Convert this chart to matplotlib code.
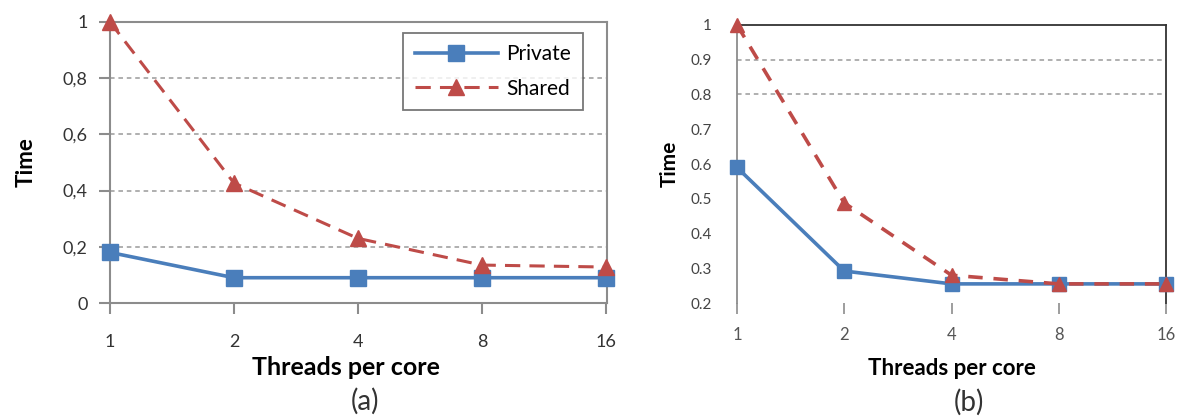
import matplotlib
matplotlib.use("Agg")
import matplotlib.pyplot as plt
import numpy as np

categories = ["1", "2", "4", "8", "16"]
a_private = [0.18, 0.09, 0.09, 0.09, 0.09]
a_shared = [1.0, 0.427, 0.23, 0.135, 0.128]
b_private = [0.59, 0.292, 0.255, 0.255, 0.255]
b_shared = [1.0, 0.488, 0.28, 0.255, 0.255]
a_yticks = [0, 0.2, 0.4, 0.6, 0.8, 1.0]
a_yticklabels = ["0", "0,2", "0,4", "0,6", "0,8", "1"]
b_yticks = [0.2, 0.3, 0.4, 0.5, 0.6, 0.7, 0.8, 0.9, 1.0]
b_yticklabels = ["0.2", "0.3", "0.4", "0.5", "0.6", "0.7", "0.8", "0.9", "1"]
b_grid = [0.8, 0.9]

plt.rcParams['font.family'] = ['Lato', 'DejaVu Sans']

BLUE = "#4A7EBB"
RED = "#BE4B48"
GREY = "#8C8C8C"

fig = plt.figure(figsize=(11.99, 4.19), dpi=100)
x = np.arange(len(categories))

# ---------- (a) ----------
ax1 = fig.add_axes([110/1199, 1-303/419, 497/1199, 281/419])
ax1.set_xlim(0, 4.01)
ax1.set_ylim(0, 1)
for v in a_yticks[1:-1]:
    ax1.axhline(v, color="#9A9A9A", lw=1.1, ls=(0, (3, 2.5)), zorder=1)
ax1.plot(x, a_private, color=BLUE, lw=2.6, marker="s", ms=11, label="Private", zorder=3, clip_on=False)
ax1.plot(x, a_shared, color=RED, lw=2.2, ls=(0, (5, 3)), marker="^", ms=12, label="Shared", zorder=3, clip_on=False)
ax1.set_xticks(x)
ax1.set_xticklabels(categories, fontsize=13)
ax1.set_yticks(a_yticks)
ax1.set_yticklabels(a_yticklabels, fontsize=13)
for s in ax1.spines.values():
    s.set_color(GREY)
    s.set_linewidth(1.5)
ax1.tick_params(axis="both", color=GREY, width=1.5, length=8, pad=8, labelcolor="#333333")
ax1.tick_params(axis="x", pad=14)
ax1.set_ylabel("Time", fontsize=16, fontweight="bold", labelpad=19)
fig.text(346/1199, 1-367/419, "Threads per core", fontsize=18, fontweight="bold",
         ha="center", va="center")
leg = ax1.legend(loc="upper left", bbox_to_anchor=(0.59, 0.962), fancybox=False,
                 edgecolor="#555555", fontsize=15, handlelength=4.0, borderpad=0.55,
                 labelspacing=0.7, handletextpad=0.4, borderaxespad=0)
leg.get_frame().set_linewidth(1.3)
fig.text(365/1199, 1-401/419, "(a)", fontsize=20, ha="center", va="center", color="#333333")

# ---------- (b) ----------
ax2 = fig.add_axes([737/1199, 1-303/419, 429/1199, 278/419])
ax2.set_xlim(0, 4)
ax2.set_ylim(0.2, 1)
for v in b_grid:
    ax2.axhline(v, color="#9A9A9A", lw=1.1, ls=(0, (3, 2.5)), zorder=1)
ax2.plot(x, b_private, color=BLUE, lw=2.6, marker="s", ms=10, zorder=3, clip_on=False)
ax2.plot(x, b_shared, color=RED, lw=2.6, ls=(0, (4, 3)), marker="^", ms=10, zorder=3, clip_on=False)
ax2.set_xticks(x)
ax2.set_xticklabels(categories, fontsize=12, color="#555555")
ax2.set_yticks(b_yticks)
ax2.set_yticklabels(b_yticklabels, fontsize=11, color="#444444")
ax2.spines["bottom"].set_visible(False)
ax2.spines["left"].set_color(GREY)
ax2.spines["left"].set_linewidth(1.3)
ax2.spines["top"].set_color("#333333")
ax2.spines["right"].set_color("#333333")
ax2.spines["top"].set_linewidth(1.3)
ax2.spines["right"].set_linewidth(1.3)
ax2.tick_params(axis="y", length=0, pad=18)
ax2.tick_params(axis="x", color=GREY, width=1.2, length=8, pad=9)
ax2.set_ylabel("Time", fontsize=15, fontweight="bold", labelpad=8)
fig.text(952/1199, 1-368/419, "Threads per core", fontsize=16, fontweight="bold",
         ha="center", va="center")
fig.text(969/1199, 1-402/419, "(b)", fontsize=20, ha="center", va="center", color="#333333")

fig.savefig("out.png", dpi=100)
